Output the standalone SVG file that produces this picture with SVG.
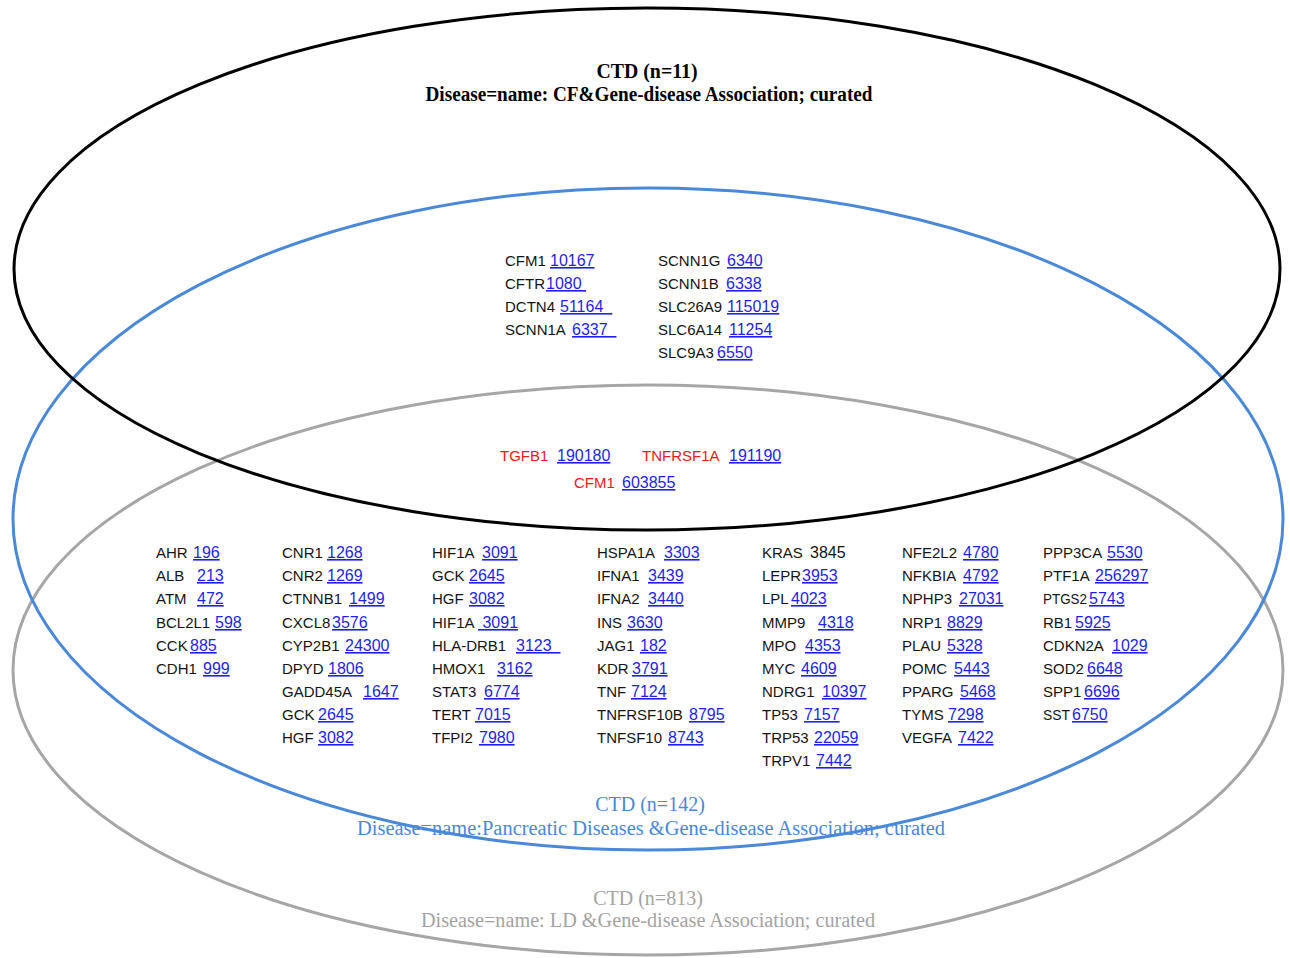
<svg xmlns="http://www.w3.org/2000/svg" width="1290" height="958" viewBox="0 0 1290 958">
<style>
.e{fill:none;stroke-width:3}
.g{font-family:"Liberation Sans",Arial,sans-serif;font-size:15px;fill:#141414}
.r{fill:#f01818}
.n{fill:#1f1fe6;text-decoration:underline;font-size:16px}
.k{fill:#141414;font-size:16px}
.t{font-family:"Liberation Serif","Times New Roman",serif;font-size:20px;text-anchor:middle}
</style>
<rect width="1290" height="958" fill="#ffffff"/>
<g id="set-ld">
<ellipse class="e" cx="648" cy="670" rx="635" ry="285" stroke="#a6a6a6"/>
<text class="t" x="648" y="905" fill="#a3a3a3">CTD (n=813)</text>
<text class="t" x="648" y="927" fill="#a3a3a3" textLength="454" lengthAdjust="spacingAndGlyphs">Disease=name: LD &amp;Gene-disease Association; curated</text>
</g>
<g id="set-pancreatic">
<ellipse class="e" cx="648" cy="519" rx="635" ry="331" stroke="#4a88d8"/>
<text class="t" x="650" y="811" fill="#4a88d8">CTD (n=142)</text>
<text class="t" x="651" y="835" fill="#4a88d8" textLength="588" lengthAdjust="spacingAndGlyphs">Disease=name:Pancreatic Diseases &amp;Gene-disease Association; curated</text>
</g>
<g id="set-cf">
<ellipse class="e" cx="647" cy="269" rx="633" ry="261" stroke="#000000"/>
<text class="t" x="647" y="78" fill="#000" font-weight="bold" textLength="101" lengthAdjust="spacingAndGlyphs">CTD (n=11)</text>
<text class="t" x="649" y="101" fill="#000" font-weight="bold" textLength="447" lengthAdjust="spacingAndGlyphs">Disease=name: CF&amp;Gene-disease Association; curated</text>
</g>
<g id="genes-cf-only" class="g">
<text x="505" y="266">CFM1<tspan x="550" class="n">10167</tspan></text>
<text x="505" y="289">CFTR<tspan x="546" class="n">1080&#160;</tspan></text>
<text x="505" y="312">DCTN4<tspan x="560" class="n">51164&#160;&#160;</tspan></text>
<text x="505" y="335">SCNN1A<tspan x="572" class="n">6337&#160;&#160;</tspan></text>
<text x="658" y="266">SCNN1G<tspan x="727" class="n">6340</tspan></text>
<text x="658" y="289">SCNN1B<tspan x="726" class="n">6338</tspan></text>
<text x="658" y="312">SLC26A9<tspan x="727" class="n">115019</tspan></text>
<text x="658" y="335">SLC6A14<tspan x="729" class="n">11254</tspan></text>
<text x="658" y="358">SLC9A3<tspan x="717" class="n">6550</tspan></text>
</g>
<g id="genes-all-three" class="g">
<text x="500" y="461" class="r">TGFB1<tspan x="557" class="n">190180</tspan></text>
<text x="642" y="461" class="r">TNFRSF1A<tspan x="729" class="n">191190</tspan></text>
<text x="574" y="488" class="r">CFM1<tspan x="622" class="n">603855</tspan></text>
</g>
<g id="genes-pancreatic-ld" class="g">
<text x="156" y="558">AHR<tspan x="193" class="n">196</tspan></text>
<text x="156" y="581">ALB<tspan x="197" class="n">213</tspan></text>
<text x="156" y="604">ATM<tspan x="197" class="n">472</tspan></text>
<text x="156" y="628">BCL2L1<tspan x="215" class="n">598</tspan></text>
<text x="156" y="651">CCK<tspan x="190" class="n">885</tspan></text>
<text x="156" y="674">CDH1<tspan x="203" class="n">999</tspan></text>

<text x="282" y="558">CNR1<tspan x="327" class="n">1268</tspan></text>
<text x="282" y="581">CNR2<tspan x="327" class="n">1269</tspan></text>
<text x="282" y="604">CTNNB1<tspan x="349" class="n">1499</tspan></text>
<text x="282" y="628">CXCL8<tspan x="332" class="n">3576</tspan></text>
<text x="282" y="651">CYP2B1<tspan x="345" class="n">24300</tspan></text>
<text x="282" y="674">DPYD<tspan x="328" class="n">1806</tspan></text>
<text x="282" y="697">GADD45A<tspan x="363" class="n">1647</tspan></text>
<text x="282" y="720">GCK<tspan x="318" class="n">2645</tspan></text>
<text x="282" y="743">HGF<tspan x="318" class="n">3082</tspan></text>

<text x="432" y="558">HIF1A<tspan x="482" class="n">3091</tspan></text>
<text x="432" y="581">GCK<tspan x="469" class="n">2645</tspan></text>
<text x="432" y="604">HGF<tspan x="469" class="n">3082</tspan></text>
<text x="432" y="628">HIF1A<tspan x="478" class="n">&#160;3091</tspan></text>
<text x="432" y="651">HLA-DRB1<tspan x="516" class="n">3123&#160;&#160;</tspan></text>
<text x="432" y="674">HMOX1<tspan x="497" class="n">3162</tspan></text>
<text x="432" y="697">STAT3<tspan x="484" class="n">6774</tspan></text>
<text x="432" y="720">TERT<tspan x="475" class="n">7015</tspan></text>
<text x="432" y="743">TFPI2<tspan x="479" class="n">7980</tspan></text>

<text x="597" y="558">HSPA1A<tspan x="664" class="n">3303</tspan></text>
<text x="597" y="581">IFNA1<tspan x="648" class="n">3439</tspan></text>
<text x="597" y="604">IFNA2<tspan x="648" class="n">3440</tspan></text>
<text x="597" y="628">INS<tspan x="627" class="n">3630</tspan></text>
<text x="597" y="651">JAG1<tspan x="640" class="n">182</tspan></text>
<text x="597" y="674">KDR<tspan x="632" class="n">3791</tspan></text>
<text x="597" y="697">TNF<tspan x="631" class="n">7124</tspan></text>
<text x="597" y="720">TNFRSF10B<tspan x="689" class="n">8795</tspan></text>
<text x="597" y="743">TNFSF10<tspan x="668" class="n">8743</tspan></text>

<text x="762" y="558">KRAS<tspan x="810" class="k">3845</tspan></text>
<text x="762" y="581">LEPR<tspan x="802" class="n">3953</tspan></text>
<text x="762" y="604">LPL<tspan x="791" class="n">4023</tspan></text>
<text x="762" y="628">MMP9<tspan x="818" class="n">4318</tspan></text>
<text x="762" y="651">MPO<tspan x="805" class="n">4353</tspan></text>
<text x="762" y="674">MYC<tspan x="801" class="n">4609</tspan></text>
<text x="762" y="697">NDRG1<tspan x="822" class="n">10397</tspan></text>
<text x="762" y="720">TP53<tspan x="804" class="n">7157</tspan></text>
<text x="762" y="743">TRP53<tspan x="814" class="n">22059</tspan></text>
<text x="762" y="766">TRPV1<tspan x="816" class="n">7442</tspan></text>

<text x="902" y="558">NFE2L2<tspan x="963" class="n">4780</tspan></text>
<text x="902" y="581">NFKBIA<tspan x="963" class="n">4792</tspan></text>
<text x="902" y="604">NPHP3<tspan x="959" class="n">27031</tspan></text>
<text x="902" y="628">NRP1<tspan x="947" class="n">8829</tspan></text>
<text x="902" y="651">PLAU<tspan x="947" class="n">5328</tspan></text>
<text x="902" y="674">POMC<tspan x="954" class="n">5443</tspan></text>
<text x="902" y="697">PPARG<tspan x="960" class="n">5468</tspan></text>
<text x="902" y="720">TYMS<tspan x="948" class="n">7298</tspan></text>
<text x="902" y="743">VEGFA<tspan x="958" class="n">7422</tspan></text>

<text x="1043" y="558">PPP3CA<tspan x="1107" class="n">5530</tspan></text>
<text x="1043" y="581">PTF1A<tspan x="1095" class="n">256297</tspan></text>
<text x="1043" y="604"><tspan textLength="44" lengthAdjust="spacingAndGlyphs">PTGS2</tspan><tspan x="1089" class="n">5743</tspan></text>
<text x="1043" y="628">RB1<tspan x="1075" class="n">5925</tspan></text>
<text x="1043" y="651">CDKN2A<tspan x="1112" class="n">1029</tspan></text>
<text x="1043" y="674">SOD2<tspan x="1087" class="n">6648</tspan></text>
<text x="1043" y="697">SPP1<tspan x="1084" class="n">6696</tspan></text>
<text x="1043" y="720"><tspan textLength="27" lengthAdjust="spacingAndGlyphs">SST</tspan><tspan x="1072" class="n">6750</tspan></text>
</g>
</svg>
